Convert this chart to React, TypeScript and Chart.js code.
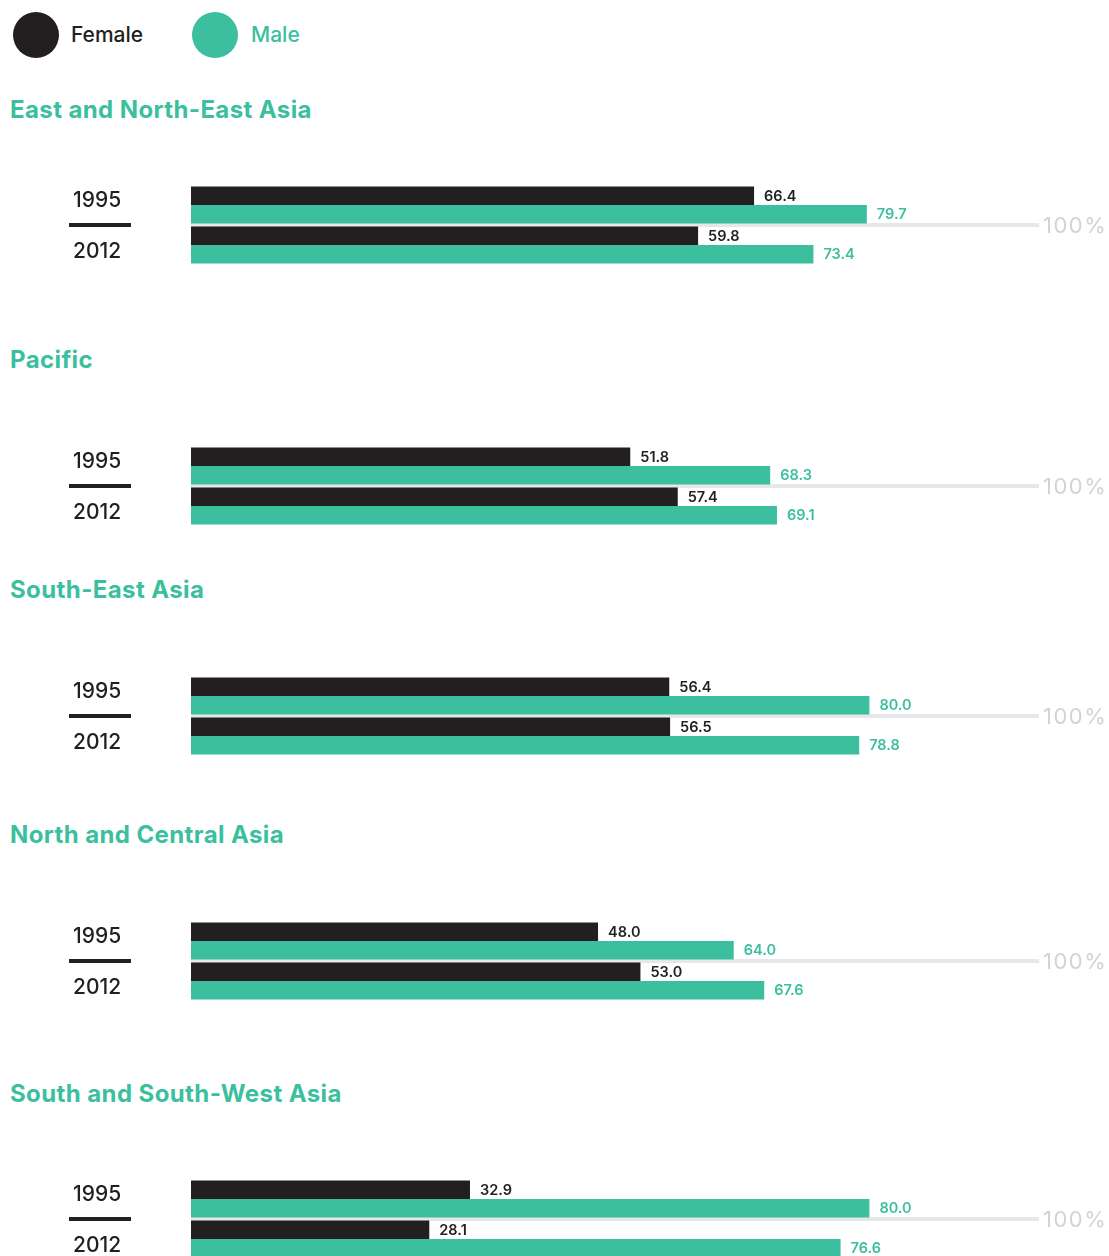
import React, { useEffect, useRef } from "react";
import { Chart, registerables } from "chart.js";

Chart.register(...registerables);

const FEMALE_COLOR = "#231f20";
const MALE_COLOR = "#3bbf9e";
const GRID_COLOR = "#e6e7e8";
const HUNDRED_COLOR = "#d1d3d4";
const FONT = "Inter, 'Noto Sans', sans-serif";

const years = ["1995", "2012"];
const seriesNames = ["Female", "Male"];
const regions = [
  "East and North-East Asia",
  "Pacific",
  "South-East Asia",
  "North and Central Asia",
  "South and South-West Asia",
];
const femaleValues = [
  [66.4, 59.8],
  [51.8, 57.4],
  [56.4, 56.5],
  [48.0, 53.0],
  [32.9, 28.1],
];
const maleValues = [
  [79.7, 73.4],
  [68.3, 69.1],
  [80.0, 78.8],
  [64.0, 67.6],
  [80.0, 76.6],
];
const axisMax = 100;
const maxLabel = "100%";

// layout (page px)
const titleCenters = [110, 360, 590, 835, 1094];
const gridCenters = [224.5, 485.5, 715.5, 960.5, 1218.5];
const BAR_LEFT = 191;
const BAR_RIGHT = 1039;
const PAGE_W = 1109;
const CANVAS_H = 80;

const decorPlugin = {
  id: "panelDecor",
  beforeDatasetsDraw(chart: any) {
    const { ctx, chartArea } = chart;
    const yMid = (chartArea.top + chartArea.bottom) / 2;
    ctx.save();
    ctx.fillStyle = GRID_COLOR;
    ctx.fillRect(chartArea.left, yMid - 2, chartArea.right - chartArea.left, 4);
    ctx.font = `400 22px ${FONT}`;
    ctx.fillStyle = HUNDRED_COLOR;
    ctx.textBaseline = "alphabetic";
    ctx.textAlign = "left";
    try {
      (ctx as any).letterSpacing = "1.5px";
    } catch (e) {}
    ctx.fillText(maxLabel, chartArea.right + 4, yMid + 7.5);
    try {
      (ctx as any).letterSpacing = "0px";
    } catch (e) {}
    // year labels and separator
    ctx.fillStyle = FEMALE_COLOR;
    ctx.fillRect(69, yMid - 2, 62, 4);
    ctx.font = `500 21px ${FONT}`;
    const labels = chart.data.labels as string[];
    ctx.fillText(labels[0], 73, yMid - 18.5);
    ctx.fillText(labels[1], 73, yMid + 32.5);
    ctx.restore();
  },
  afterDatasetsDraw(chart: any) {
    const { ctx } = chart;
    ctx.save();
    ctx.font = `600 14.5px ${FONT}`;
    ctx.textAlign = "left";
    ctx.textBaseline = "alphabetic";
    chart.data.datasets.forEach((ds: any, di: number) => {
      const meta = chart.getDatasetMeta(di);
      ctx.fillStyle = di === 0 ? FEMALE_COLOR : MALE_COLOR;
      meta.data.forEach((bar: any, i: number) => {
        const v = ds.data[i] as number;
        ctx.fillText(v.toFixed(1), bar.x + 10, bar.y + 5);
      });
    });
    ctx.restore();
  },
};

function Panel({ index }: { index: number }) {
  const ref = useRef<HTMLCanvasElement | null>(null);
  useEffect(() => {
    if (!ref.current) return;
    const chart = new Chart(ref.current, {
      type: "bar",
      data: {
        labels: years,
        datasets: [
          {
            label: seriesNames[0],
            data: femaleValues[index],
            backgroundColor: FEMALE_COLOR,
            categoryPercentage: 0.92,
            barPercentage: 1,
          },
          {
            label: seriesNames[1],
            data: maleValues[index],
            backgroundColor: MALE_COLOR,
            categoryPercentage: 0.92,
            barPercentage: 1,
          },
        ],
      },
      options: {
        indexAxis: "y",
        animation: false,
        responsive: false,
        maintainAspectRatio: false,
        events: [],
        layout: {
          padding: { left: BAR_LEFT, right: PAGE_W - BAR_RIGHT, top: 0, bottom: 0 },
        },
        plugins: {
          legend: { display: false },
          tooltip: { enabled: false },
          title: { display: false },
        },
        scales: {
          x: { display: false, min: 0, max: axisMax },
          y: { display: false },
        },
      },
      plugins: [decorPlugin],
    });
    return () => chart.destroy();
  }, [index]);
  return (
    <>
      <div
        style={{
          position: "absolute",
          left: 10,
          top: titleCenters[index] - 15,
          height: 30,
          lineHeight: "30px",
          fontFamily: FONT,
          fontWeight: 700,
          fontSize: 24,
          letterSpacing: "0.4px",
          color: MALE_COLOR,
          whiteSpace: "nowrap",
        }}
      >
        {regions[index]}
      </div>
      <canvas
        ref={ref}
        width={PAGE_W}
        height={CANVAS_H}
        style={{
          position: "absolute",
          left: 0,
          top: gridCenters[index] - CANVAS_H / 2,
          width: PAGE_W,
          height: CANVAS_H,
        }}
      />
    </>
  );
}

export default function App() {
  useEffect(() => {
    document.body.style.margin = "0";
    document.body.style.overflow = "hidden";
  }, []);
  const legendItems = [
    { name: seriesNames[0], color: FEMALE_COLOR, cx: 36, textLeft: 71 },
    { name: seriesNames[1], color: MALE_COLOR, cx: 215, textLeft: 251 },
  ];
  return (
    <div
      style={{
        position: "relative",
        width: PAGE_W,
        height: 1256,
        overflow: "hidden",
        background: "#fff",
      }}
    >
      {legendItems.map((it) => (
        <React.Fragment key={it.name}>
          <div
            style={{
              position: "absolute",
              left: it.cx - 23,
              top: 12,
              width: 46,
              height: 46,
              borderRadius: "50%",
              background: it.color,
            }}
          />
          <div
            style={{
              position: "absolute",
              left: it.textLeft,
              top: 20,
              height: 30,
              lineHeight: "30px",
              fontFamily: FONT,
              fontWeight: 500,
              fontSize: 21,
              color: it.color,
            }}
          >
            {it.name}
          </div>
        </React.Fragment>
      ))}
      {regions.map((_, i) => (
        <Panel key={i} index={i} />
      ))}
    </div>
  );
}
